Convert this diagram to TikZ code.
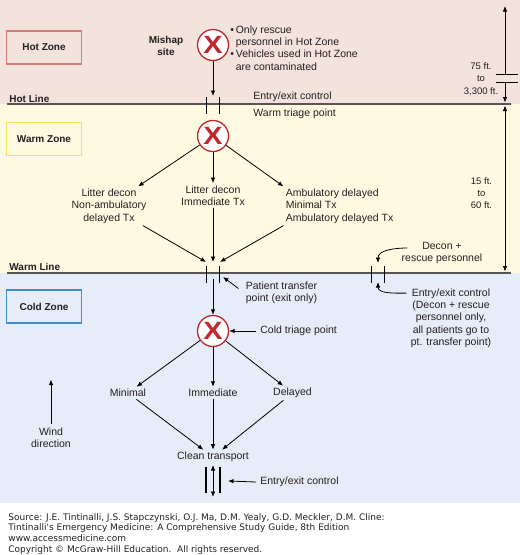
\documentclass[tikz,border=0pt]{standalone}
\usepackage{fontspec}
\setmainfont{Liberation Sans}
\newfontfamily\srcfont{DejaVu Sans}
\usetikzlibrary{arrows.meta,calc,positioning}
\definecolor{hotbg}{RGB}{244,226,221}
\definecolor{warmbg}{RGB}{254,250,226}
\definecolor{coldbg}{RGB}{231,237,248}
\definecolor{hotedge}{RGB}{219,122,118}
\definecolor{warmedge}{RGB}{250,226,80}
\definecolor{coldedge}{RGB}{62,142,208}
\definecolor{xred}{RGB}{193,39,45}
\definecolor{linegray}{RGB}{85,85,85}
\definecolor{txt}{RGB}{35,31,32}
\tikzset{
  zonebox/.style={draw,line width=1.3pt,fill=none,minimum width=75pt,minimum height=33pt,font=\bfseries},
  xmark/.style={circle,draw=xred,line width=1.3pt,fill=white,minimum size=31pt,inner sep=0pt,
    text=xred,font=\fontsize{25}{25}\selectfont\bfseries},
  lbl/.style={inner sep=2pt,align=center},
  gatebar/.style={line width=1.1pt},
  zoneline/.style={line width=2pt,linegray},
  dimtext/.style={lbl,font=\fontsize{9.5}{12.2}\selectfont}
}

\begin{document}
\begin{tikzpicture}[x=1pt,y=-1pt,>={Latex[length=5.5pt,width=4.5pt]},line width=0.8pt,
    font=\fontsize{10.5}{12.3}\selectfont,text=txt]
    \fill[hotbg] (0,0) rectangle (520,104);
    \fill[warmbg] (0,104) rectangle (520,273);
    \fill[coldbg] (0,273) rectangle (520,503);
    \useasboundingbox (0,0) rectangle (520,555);
    % zone lines and boxes
    \draw[zoneline] (7,104) -- (511,104);
    \draw[zoneline] (7,273) -- (511,273);
    \node[anchor=base west,inner sep=0pt,font=\bfseries] (hotline) at (9,102) {Hot Line};
    \node[anchor=base west,inner sep=0pt,font=\bfseries] (warmline) at (9,270) {Warm Line};
    \node[zonebox,draw=hotedge] (hot) at (44,47.5) {Hot Zone};
    \node[zonebox,draw=warmedge] (warm) at (44,139) {Warm Zone};
    \node[zonebox,draw=coldedge] (cold) at (44,306.5) {Cold Zone};
    % gates
    \coordinate (hg) at (213,104);
    \coordinate (wg) at (213,273);
    \coordinate (rg) at (378,273);
    \coordinate (bg) at (213,481);
    \foreach \g in {hg,wg,rg}
      \draw[gatebar] ([xshift=-6.5pt,yshift=7pt]\g) -- ++(0,17)
                     ([xshift=6.5pt,yshift=7pt]\g) -- ++(0,17);
    \draw[gatebar] ([xshift=-7pt,yshift=14pt]bg) -- ++(0,26)
                   ([xshift=7pt,yshift=14pt]bg) -- ++(0,26);
    % hot zone
    \node[xmark] (mishap) at (213,45) {\scalebox{1.15}[1]{X}};
    \node[lbl,font=\bfseries] (site) at (166,46) {Mishap\\site};
    \node[anchor=west,align=left,inner sep=0pt] (rules) at (230,48)
      {\textbullet\,Only rescue\\\hphantom{\textbullet\,}personnel in Hot Zone\\
       \textbullet\,Vehicles used in Hot Zone\\\hphantom{\textbullet\,}are contaminated};
    \draw[->] (mishap) -- ([yshift=8pt]hg);
    \node[anchor=west,inner sep=0pt] (hotctl) at (253,97) {Entry/exit control};
    % warm zone
    \node[anchor=west,inner sep=0pt] (warmtp) at (253,114) {Warm triage point};
    \node[xmark] (warmx) at (213,136) {\scalebox{1.15}[1]{X}};
    \node[lbl] (litnon) at (109,206) {Litter decon\\Non-ambulatory\\delayed Tx};
    \node[lbl] (litimm) at (213,195.5) {Litter decon\\Immediate Tx};
    \node[lbl,align=left,anchor=west] (ambdel) at (283.5,206)
      {Ambulatory delayed\\Minimal Tx\\Ambulatory delayed Tx};
    \draw[->] (warmx) -- (litnon);
    \draw[->] (warmx) -- (litimm);
    \draw[->] (warmx) -- (ambdel.north west);
    \draw[->] (litnon) -- ([xshift=-7pt,yshift=11pt]wg);
    \draw[->] (litimm) -- ([yshift=11pt]wg);
    \draw[->] (ambdel.south west) -- ([xshift=7pt,yshift=11pt]wg);
    \node[lbl] (decon) at (442,253) {Decon +\\rescue personnel};
    \draw[->] ([xshift=8pt,yshift=5pt]decon.west) to[out=180,in=90] ([yshift=10pt]rg);
    % dimensions
    \coordinate (dimtop) at (505,6);
    \coordinate (dimhot) at (505,104);
    \coordinate (dimwarm) at (505,273);
    \node[dimtext] (hotdim) at (481,79) {75 ft.\\to\\3,300 ft.};
    \node[dimtext] (warmdim) at (481.5,193) {15 ft.\\to\\60 ft.};
    \draw[->] ([yshift=30pt]dimhot) -- (dimtop);
    \draw[->] ([yshift=22pt]dimhot) -- ([yshift=1.5pt]dimhot);
    \draw ([shift={(-9pt,30pt)}]dimhot) -- ++(22,0)
          ([shift={(-9pt,22pt)}]dimhot) -- ++(22,0);
    \draw[<->] ([yshift=-1.5pt]dimhot) -- ([yshift=1.5pt]dimwarm);
    % cold zone
    \node[lbl,align=left,anchor=west] (ptp) at (243.5,292.5) {Patient transfer\\point (exit only)};
    \draw[->] ([xshift=-5pt,yshift=4pt]ptp.west) -- ([xshift=10pt,yshift=-4pt]wg);
    \node[lbl] (rgctl) at (451,318)
      {Entry/exit control\\(Decon + rescue\\personnel only,\\all patients go to\\pt. transfer point)};
    \draw[->] ([xshift=-2pt,yshift=-7pt]rgctl.north west) to[out=180,in=-90] ([yshift=-9pt]rg);
    \node[xmark] (coldx) at (213,331) {\scalebox{1.15}[1]{X}};
    \draw[->] ([yshift=-6pt]wg) -- (coldx);
    \node[anchor=west,inner sep=0pt] (coldtp) at (260,331) {Cold triage point};
    \draw[->] ([xshift=-4pt]coldtp.west) -- (coldx);
    \node[lbl] (minimal) at (128,393) {Minimal};
    \node[lbl] (immediate) at (213,393) {Immediate};
    \node[lbl] (delayed) at (292.5,393) {Delayed};
    \draw[->] (coldx) -- (minimal);
    \draw[->] (coldx) -- (immediate);
    \draw[->] (coldx) -- (delayed);
    \node[lbl] (clean) at (213,457) {Clean transport};
    \draw[->] (minimal) -- ([xshift=-9pt,yshift=20pt]clean);
    \draw[->] (immediate) -- ([yshift=15pt]clean);
    \draw[->] (delayed) -- ([xshift=9pt,yshift=20pt]clean);
    \draw[<->] ([yshift=16pt]bg) -- ([yshift=-16pt]bg);
    \node[anchor=west,inner sep=0pt] (botctl) at (260,482) {Entry/exit control};
    \draw[->] ([xshift=-4pt]botctl.west) -- ([xshift=15pt]bg);
    \node[lbl] (wind) at (51,438) {Wind\\direction};
    \draw[->] ([yshift=2pt]wind.north) -- ++(0,-44);
    % source
    \node[anchor=north west,align=left,inner sep=0pt,font=\srcfont\fontsize{9}{10.7}\selectfont]
      (source) at (8,513)
      {Source: J.E. Tintinalli, J.S. Stapczynski, O.J. Ma, D.M. Yealy, G.D. Meckler, D.M. Cline:\\
       Tintinalli's Emergency Medicine: A Comprehensive Study Guide, 8th Edition\\
       www.accessmedicine.com\\
       Copyright \textcopyright{} McGraw-Hill Education.\ \ All rights reserved.};
\end{tikzpicture}
\end{document}
